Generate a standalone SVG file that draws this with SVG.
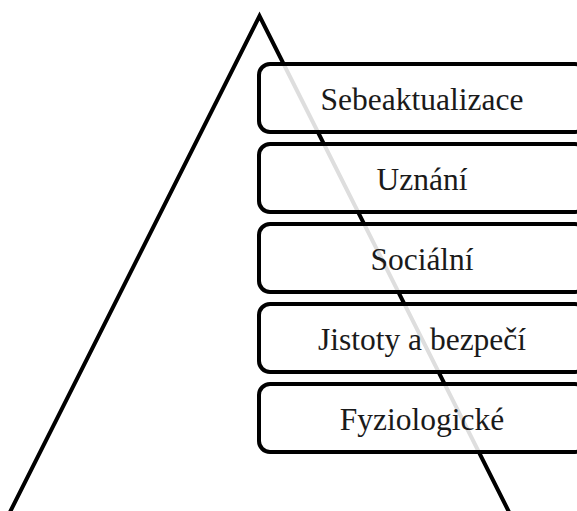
<svg xmlns="http://www.w3.org/2000/svg" width="577" height="511" viewBox="0 0 577 511">
  <style>
    .box { fill: #ffffff; fill-opacity: 0.87; stroke: #000000; stroke-width: 4; }
    .lbl { font-family: "Liberation Serif", "Times New Roman", serif; font-size: 31.5px; fill: #1a1a1a; text-anchor: middle; }
    .tri { fill: none; stroke: #000000; stroke-width: 4; stroke-linejoin: miter; stroke-miterlimit: 10; }
  </style>
  <rect x="0" y="0" width="577" height="511" fill="#ffffff"/>
  <g id="pyramid">
    <polyline class="tri" points="9,514 259.5,16 510,514"/>
  </g>
  <g id="connectors"></g>
  <g id="node-sebeaktualizace">
    <rect class="box" x="259" y="64" width="327" height="68" rx="11" ry="11"/>
    <text class="lbl" x="422" y="109.5">Sebeaktualizace</text>
  </g>
  <g id="node-uznani">
    <rect class="box" x="259" y="144" width="327" height="68" rx="11" ry="11"/>
    <text class="lbl" x="422" y="189.5">Uznání</text>
  </g>
  <g id="node-socialni">
    <rect class="box" x="259" y="224" width="327" height="68" rx="11" ry="11"/>
    <text class="lbl" x="422" y="269.5">Sociální</text>
  </g>
  <g id="node-jistoty">
    <rect class="box" x="259" y="304" width="327" height="68" rx="11" ry="11"/>
    <text class="lbl" x="422" y="349.5">Jistoty a bezpečí</text>
  </g>
  <g id="node-fyziologicke">
    <rect class="box" x="259" y="384" width="327" height="68" rx="11" ry="11"/>
    <text class="lbl" x="422" y="429.5">Fyziologické</text>
  </g>
</svg>
